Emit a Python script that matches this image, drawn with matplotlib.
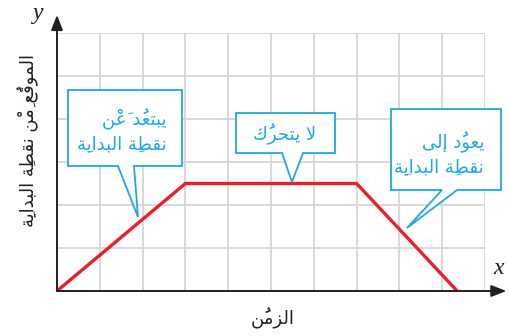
import matplotlib
matplotlib.use("Agg")
import matplotlib.pyplot as plt
from matplotlib.patches import Polygon


# -----------------------------
# Data
# -----------------------------
time_pts = [0, 3, 7, 9.35]
dist_pts = [0, 2.5, 2.5, 0]

x_label = "الزمنُ"
y_label = "الموقعُ مِنْ نقطةِ البدايةِ"
callout_texts = [
    "يبتعدُ عَنْ\nنقطةِ البدايةِ",
    "لا يتحركُ",
    "يعودُ إلى\nنقطةِ البدايةِ",
]

CYAN = "#1fa9e1"
RED = "#e8202a"
GRID = "#d6d6d6"
AXIS = "#231f20"


# -----------------------------
# Minimal Arabic shaping (presentation forms + RTL order)
# -----------------------------
FORMS = {
    "\u0627": (0xFE8D, 0xFE8E, None, None),
    "\u0625": (0xFE87, 0xFE88, None, None),
    "\u0628": (0xFE8F, 0xFE90, 0xFE91, 0xFE92),
    "\u0629": (0xFE93, 0xFE94, None, None),
    "\u062A": (0xFE95, 0xFE96, 0xFE97, 0xFE98),
    "\u062D": (0xFEA1, 0xFEA2, 0xFEA3, 0xFEA4),
    "\u062F": (0xFEA9, 0xFEAA, None, None),
    "\u0631": (0xFEAD, 0xFEAE, None, None),
    "\u0632": (0xFEAF, 0xFEB0, None, None),
    "\u0637": (0xFEC1, 0xFEC2, 0xFEC3, 0xFEC4),
    "\u0639": (0xFEC9, 0xFECA, 0xFECB, 0xFECC),
    "\u0642": (0xFED5, 0xFED6, 0xFED7, 0xFED8),
    "\u0643": (0xFED9, 0xFEDA, 0xFEDB, 0xFEDC),
    "\u0644": (0xFEDD, 0xFEDE, 0xFEDF, 0xFEE0),
    "\u0645": (0xFEE1, 0xFEE2, 0xFEE3, 0xFEE4),
    "\u0646": (0xFEE5, 0xFEE6, 0xFEE7, 0xFEE8),
    "\u0648": (0xFEED, 0xFEEE, None, None),
    "\u0649": (0xFEEF, 0xFEF0, None, None),
    "\u064A": (0xFEF1, 0xFEF2, 0xFEF3, 0xFEF4),
    "\u0644\u0627": (0xFEFB, 0xFEFC, None, None),
    "\u0644\u0625": (0xFEF9, 0xFEFA, None, None),
}


def shape_line(text):
    clusters = []
    for c in text:
        if "\u064B" <= c <= "\u0652" and clusters:
            clusters[-1][1] += c
        else:
            clusters.append([c, ""])
    # lam-alef ligatures
    merged = []
    i = 0
    while i < len(clusters):
        b, m = clusters[i]
        if b == "\u0644" and i + 1 < len(clusters) and b + clusters[i + 1][0] in FORMS:
            merged.append([b + clusters[i + 1][0], m + clusters[i + 1][1]])
            i += 2
        else:
            merged.append([b, m])
            i += 1
    out = []
    for i, (b, m) in enumerate(merged):
        if b not in FORMS:
            out.append(b + m)
            continue
        iso, fin, ini, med = FORMS[b]
        prev = merged[i - 1][0] if i > 0 else None
        nxt = merged[i + 1][0] if i + 1 < len(merged) else None
        pj = prev in FORMS and FORMS[prev][2] is not None
        nj = ini is not None and nxt in FORMS
        if pj and nj:
            code = med
        elif pj:
            code = fin
        elif nj:
            code = ini
        else:
            code = iso
        out.append(chr(code) + m)
    return "".join(reversed(out))


def ar(text):
    return "\n".join(shape_line(t) for t in text.split("\n"))


# -----------------------------
# Figure
# -----------------------------
W, H = 509, 336
fig = plt.figure(figsize=(W / 100, H / 100), dpi=100)

x0, y0 = 57, 291      # origin in pixels
ux, uy = 42.8, 43.0   # pixels per grid unit
nx, ny = 10, 6

ax = fig.add_axes([x0 / W, (H - y0) / H, nx * ux / W, ny * uy / H])
ax.set_xlim(0, nx)
ax.set_ylim(0, ny)
ax.axis("off")


def px(x, y):
    return ((x - x0) / ux, (y0 - y) / uy)


for i in range(1, nx + 1):
    ax.plot([i, i], [0, ny], color=GRID, lw=1.3, zorder=1)
for j in range(1, ny + 1):
    ax.plot([0, nx], [j, j], color=GRID, lw=1.3, zorder=1)

# axes with arrows
arrow = dict(arrowstyle="-|>,head_length=0.9,head_width=0.35",
             color=AXIS, lw=1.4, shrinkA=0, shrinkB=0)
ax.annotate("", xy=(10.5, 0), xytext=(0, 0), annotation_clip=False,
            arrowprops=arrow, zorder=5)
ax.annotate("", xy=(0, 6.42), xytext=(0, 0), annotation_clip=False,
            arrowprops=arrow, zorder=5)

# distance-time line
ax.plot(time_pts, dist_pts, color=RED, lw=2.4, zorder=3, solid_capstyle="butt")

# callouts: box (l, t, r, b), pointer base (x1, x2), tip (x, y), text anchor
callouts = [
    ((68, 90, 182, 166), (118, 134), (138, 217), (167, 131)),
    ((236, 113, 335, 153), (282, 303), (292, 182), (285, 134)),
    ((391, 109, 501, 190), (442, 457), (407, 228), (484, 154)),
]
for (l, t, r, b), (b1, b2), tip, anchor in callouts:
    pts = [px(l, t), px(r, t), px(r, b), px(b2, b), px(*tip), px(b1, b), px(l, b)]
    ax.add_patch(Polygon(pts, closed=True, facecolor="white", edgecolor=CYAN,
                         lw=1.3, zorder=4, clip_on=False))

for k, txt in enumerate(callout_texts):
    ax_x, ax_y = px(*callouts[k][3])
    ha = "center" if k == 1 else "right"
    ax.text(ax_x, ax_y, ar(txt), color=CYAN, fontsize=13, family=["DejaVu Sans"],
            ha=ha, va="center", multialignment="right", linespacing=1.35, zorder=6)

# axis labels
fig.text(273 / W, 1 - 318 / H, ar(x_label), fontsize=13, family=["DejaVu Sans"],
         color=AXIS, ha="center", va="center")
fig.text(28 / W, 1 - 140 / H, ar(y_label), fontsize=13, family=["DejaVu Sans"],
         color=AXIS, ha="center", va="center", rotation=90)
fig.text(38 / W, 1 - 14 / H, "y", fontsize=17, family=["Liberation Serif"],
         style="italic", color=AXIS, ha="center", va="center")
fig.text(499 / W, 1 - 268 / H, "x", fontsize=17, family=["Liberation Serif"],
         style="italic", color=AXIS, ha="center", va="center")

fig.savefig("out.png", dpi=100)
